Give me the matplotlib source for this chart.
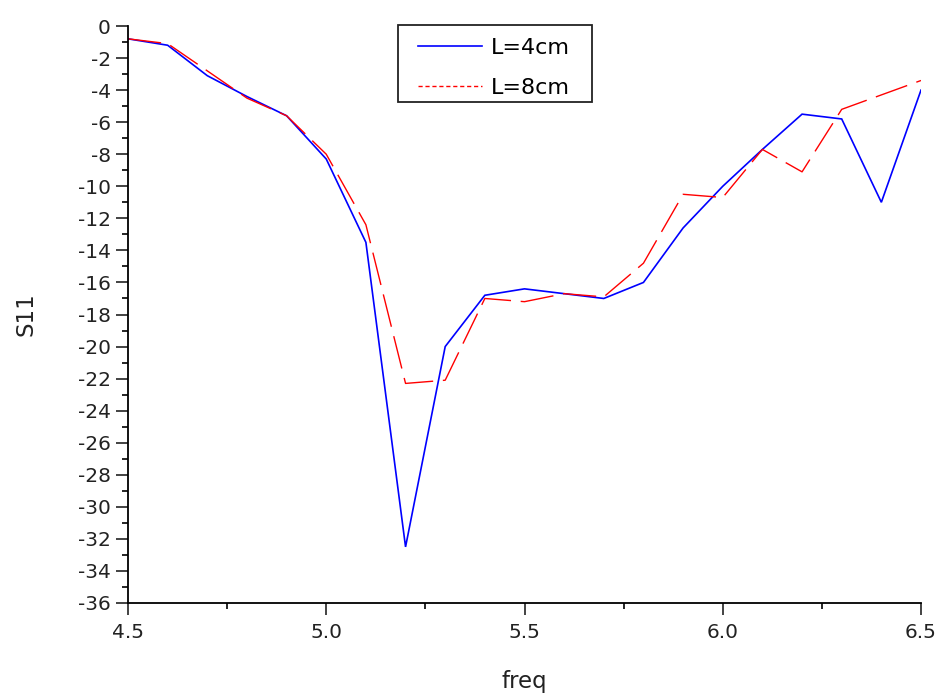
import matplotlib
matplotlib.use("Agg")
import matplotlib.pyplot as plt
from matplotlib.lines import Line2D
from matplotlib.patches import Rectangle
from matplotlib.ticker import MultipleLocator, FormatStrFormatter

plt.rcParams['font.family'] = ['DejaVu Sans']

freq = [4.5, 4.6, 4.7, 4.8, 4.9, 5.0, 5.1, 5.2, 5.3, 5.4, 5.5,
        5.6, 5.7, 5.8, 5.9, 6.0, 6.1, 6.2, 6.3, 6.4, 6.5]
s11_4cm = [-0.8, -1.2, -3.1, -4.4, -5.6, -8.3, -13.5, -32.5, -20.0, -16.8, -16.4,
           -16.7, -17.0, -16.0, -12.6, -10.0, -7.7, -5.5, -5.8, -11.0, -4.0]
s11_8cm = [-0.8, -1.1, -2.8, -4.5, -5.6, -8.0, -12.4, -22.3, -22.1, -17.0, -17.2,
           -16.7, -16.9, -14.8, -10.5, -10.7, -7.7, -9.1, -5.2, -4.3, -3.4]
labels = ["L=4cm", "L=8cm"]

W, H = 940, 695
fig = plt.figure(figsize=(W / 100, H / 100), dpi=100)
ax = fig.add_axes([128/W, 1 - 603/H, (921 - 128)/W, (603 - 26)/H])

ax.plot(freq, s11_4cm, color='#0000ff', lw=1.2, solid_joinstyle='miter')
red, = ax.plot(freq, s11_8cm, color='#ff0000', lw=1.0)
red.set_dashes((24, 7))

ax.set_xlim(4.5, 6.5)
ax.set_ylim(-36, 0)
ax.xaxis.set_major_locator(MultipleLocator(0.5))
ax.xaxis.set_minor_locator(MultipleLocator(0.25))
ax.yaxis.set_major_locator(MultipleLocator(2))
ax.yaxis.set_minor_locator(MultipleLocator(1))
ax.xaxis.set_major_formatter(FormatStrFormatter('%.1f'))
ax.yaxis.set_major_formatter(FormatStrFormatter('%d'))

for side in ('top', 'right'):
    ax.spines[side].set_visible(False)
for side in ('left', 'bottom'):
    ax.spines[side].set_linewidth(1.3)

ax.tick_params(which='major', direction='out', length=8.5, width=1.2,
               labelsize=14.5, colors='#222222')
ax.tick_params(which='minor', direction='out', length=4, width=1.2)
ax.tick_params(axis='x', which='major', pad=6)
ax.tick_params(axis='y', which='major', pad=4)

ax.set_xlabel('freq', fontsize=16.5, color='#222222', labelpad=20)
ax.set_ylabel('S11', fontsize=16.5, color='#222222', labelpad=29)

# legend entries without a frame; the box is drawn separately
handles = [Line2D([], [], color='#0000ff', lw=1.2),
           Line2D([], [], color='#ff0000', lw=1.0, dashes=(3, 2))]
leg = fig.legend(handles, labels, loc='upper left',
                 bbox_to_anchor=(418/W, 1 - 38/H),
                 frameon=False, fontsize=16, handlelength=2.9,
                 handletextpad=0.36, borderpad=0, labelspacing=0.9,
                 borderaxespad=0)
fig.add_artist(Rectangle((398/W, 1 - 102/H), (592 - 398)/W, (102 - 25)/H,
                         transform=fig.transFigure, facecolor='white',
                         edgecolor='#222222', lw=1.3, zorder=leg.get_zorder() - 0.1))

fig.savefig('out.png', dpi=100)
